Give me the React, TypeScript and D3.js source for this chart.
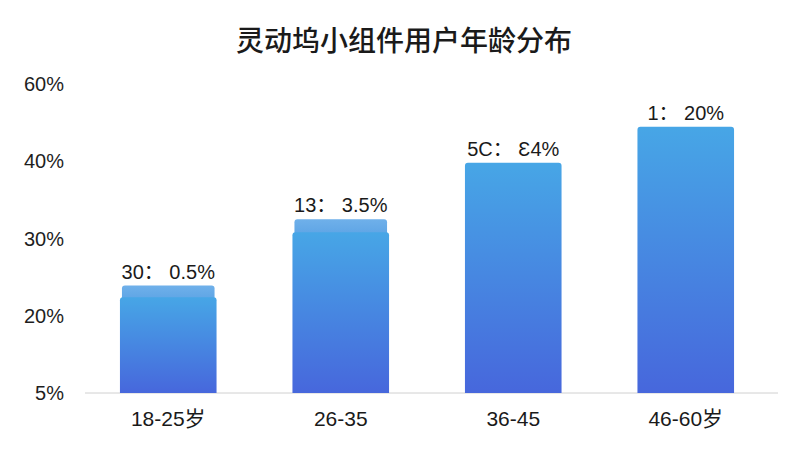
import React from "react";
import * as d3 from "d3";

const title = "灵动坞小组件用户年龄分布";
const categories = ["18-25岁", "26-35", "36-45", "46-60岁"];
const barLabels = ["30： 0.5%", "13： 3.5%", "5C： Ɛ4%", "1： 20%"];
const values = [22.4, 30.8, 39.8, 48.9];
const capValues: (number | null)[] = [23.9, 32.5, null, null];
const yTicks = [5, 20, 30, 40, 60];
const yTickLabels = ["5%", "20%", "30%", "40%", "60%"];

const W = 800;
const H = 450;
const yBottom = 393;
const yTop = 84;

export default function App() {
  const x = d3
    .scaleBand<string>()
    .domain(categories)
    .range([82, 772])
    .paddingInner(0.44)
    .paddingOuter(0.22);
  const step = (yBottom - yTop) / (yTicks.length - 1);
  const y = d3
    .scaleLinear()
    .domain(yTicks)
    .range(yTicks.map((_, i) => yBottom - i * step));
  const bw = x.bandwidth();
  const latin = "'Liberation Sans', 'Noto Sans CJK SC', sans-serif";
  const cjk = "'Noto Sans CJK SC', 'Liberation Sans', sans-serif";

  const roundTop = (x0: number, y0: number, w: number, h: number, r: number) =>
    `M${x0},${y0 + h}V${y0 + r}Q${x0},${y0} ${x0 + r},${y0}H${x0 + w - r}Q${x0 + w},${y0} ${x0 + w},${y0 + r}V${y0 + h}Z`;

  return (
    <svg
      width={W}
      height={H}
      style={{ position: "absolute", left: 0, top: 0, background: "#fff" }}
    >
      <defs>
        <linearGradient id="barGrad" x1="0" y1="0" x2="0" y2="1">
          <stop offset="0%" stopColor="#47a6e6" />
          <stop offset="100%" stopColor="#4767dc" />
        </linearGradient>
        <linearGradient id="capGrad" x1="0" y1="0" x2="0" y2="1">
          <stop offset="0%" stopColor="#6fb0ea" />
          <stop offset="100%" stopColor="#5aa2e4" />
        </linearGradient>
      </defs>
      <rect x={0} y={0} width={W} height={H} fill="#fff" />
      <text
        x={404}
        y={51}
        textAnchor="middle"
        fontFamily={cjk}
        fontSize={28}
        fontWeight={500}
        fill="#1a1a1a"
      >
        {title}
      </text>
      {yTicks.map((t, i) => (
        <text
          key={t}
          x={64}
          y={y(t)}
          dy="0.36em"
          textAnchor="end"
          fontFamily={latin}
          fontSize={20}
          fill="#1e1e1e"
        >
          {yTickLabels[i]}
        </text>
      ))}
      <line x1={85} x2={778} y1={yBottom} y2={yBottom} stroke="#d0d0d0" strokeWidth={1} />
      {categories.map((c, i) => {
        const x0 = x(c)!;
        const top = y(values[i]);
        const cap = capValues[i];
        const labelTop = cap != null ? y(cap) : top;
        return (
          <g key={c}>
            {cap != null && (
              <path
                d={roundTop(x0 + 2, y(cap), bw - 4, top - y(cap) + 6, 3)}
                fill="url(#capGrad)"
              />
            )}
            <path
              d={roundTop(x0, top, bw, yBottom - top, 3)}
              fill="url(#barGrad)"
            />
            <text
              x={x0 + bw / 2}
              y={labelTop - 7}
              textAnchor="middle"
              fontFamily={latin}
              fontSize={20}
              fill="#1a1a1a"
            >
              {barLabels[i]}
            </text>
            <text
              x={x0 + bw / 2}
              y={426}
              textAnchor="middle"
              fontFamily={latin}
              fontSize={21}
              fill="#1a1a1a"
            >
              {c}
            </text>
          </g>
        );
      })}
    </svg>
  );
}
